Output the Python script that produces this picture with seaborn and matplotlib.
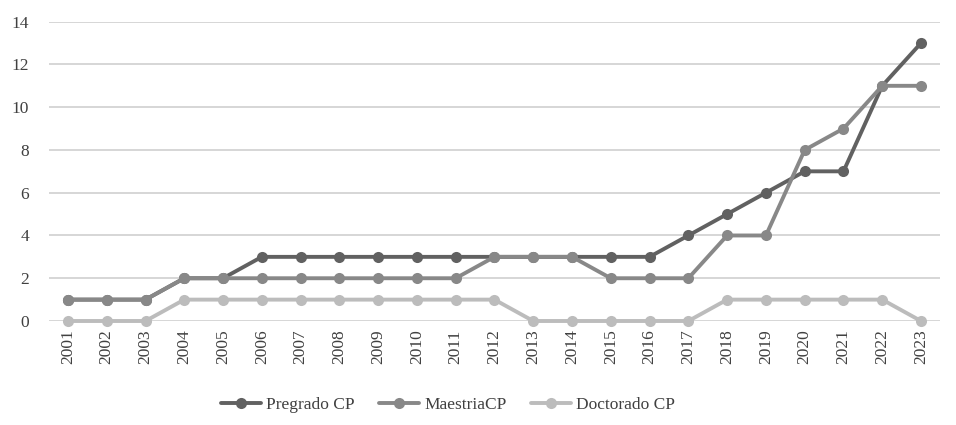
import matplotlib
matplotlib.use("Agg")
import matplotlib.pyplot as plt
import seaborn as sns
import pandas as pd

years = [str(y) for y in range(2001, 2024)]
pregrado = [1, 1, 1, 2, 2, 3, 3, 3, 3, 3, 3, 3, 3, 3, 3, 3, 4, 5, 6, 7, 7, 11, 13]
maestria = [1, 1, 1, 2, 2, 2, 2, 2, 2, 2, 2, 3, 3, 3, 2, 2, 2, 4, 4, 8, 9, 11, 11]
doctorado = [0, 0, 0, 1, 1, 1, 1, 1, 1, 1, 1, 1, 0, 0, 0, 0, 0, 1, 1, 1, 1, 1, 0]
series_names = ["Pregrado CP", "MaestriaCP", "Doctorado CP"]
y_ticks = [0, 2, 4, 6, 8, 10, 12, 14]

rows = []
for name, vals in zip(series_names, [pregrado, maestria, doctorado]):
    for yr, v in zip(years, vals):
        rows.append({"Año": yr, "Valor": v, "Serie": name})
df = pd.DataFrame(rows)

sns.set_theme(style="white")
plt.rcParams["font.family"] = ["Liberation Serif", "DejaVu Serif"]

fig = plt.figure(figsize=(9.56, 4.25), dpi=100)
ax = fig.add_axes([0.0508, 0.2447, 0.9329, 0.7043])

palette = {"Pregrado CP": "#616161", "MaestriaCP": "#888888", "Doctorado CP": "#bcbcbc"}
sns.lineplot(data=df, x="Año", y="Valor", hue="Serie", palette=palette,
             marker="o", markersize=8, markeredgewidth=0, linewidth=2.8,
             sort=False, ax=ax)

ax.set_xlim(-0.5, len(years) - 0.5)
ax.set_ylim(0, 14)
ax.set_yticks(y_ticks)
ax.set_yticklabels([str(t) for t in y_ticks], fontsize=12.5, color="#404040")
ax.set_xticks(range(len(years)))
ax.set_xticklabels(years, rotation=90, fontsize=12.5, color="#404040")
ax.tick_params(axis="y", length=0, pad=14)
ax.tick_params(axis="x", length=0, pad=6)
ax.yaxis.grid(True, color="#d0d0d0", linewidth=1.2)
ax.set_axisbelow(True)
for s in ax.spines.values():
    s.set_visible(False)
ax.set_xlabel("")
ax.set_ylabel("")
for l in ax.lines:
    l.set_clip_on(False)

leg = ax.legend(loc="lower center", bbox_to_anchor=(0.448, -0.36), ncol=3,
                frameon=False, fontsize=12.5, handlelength=2.3, handletextpad=0.3,
                columnspacing=1.4)
for t in leg.get_texts():
    t.set_color("#404040")

fig.savefig("out.png", dpi=100)
